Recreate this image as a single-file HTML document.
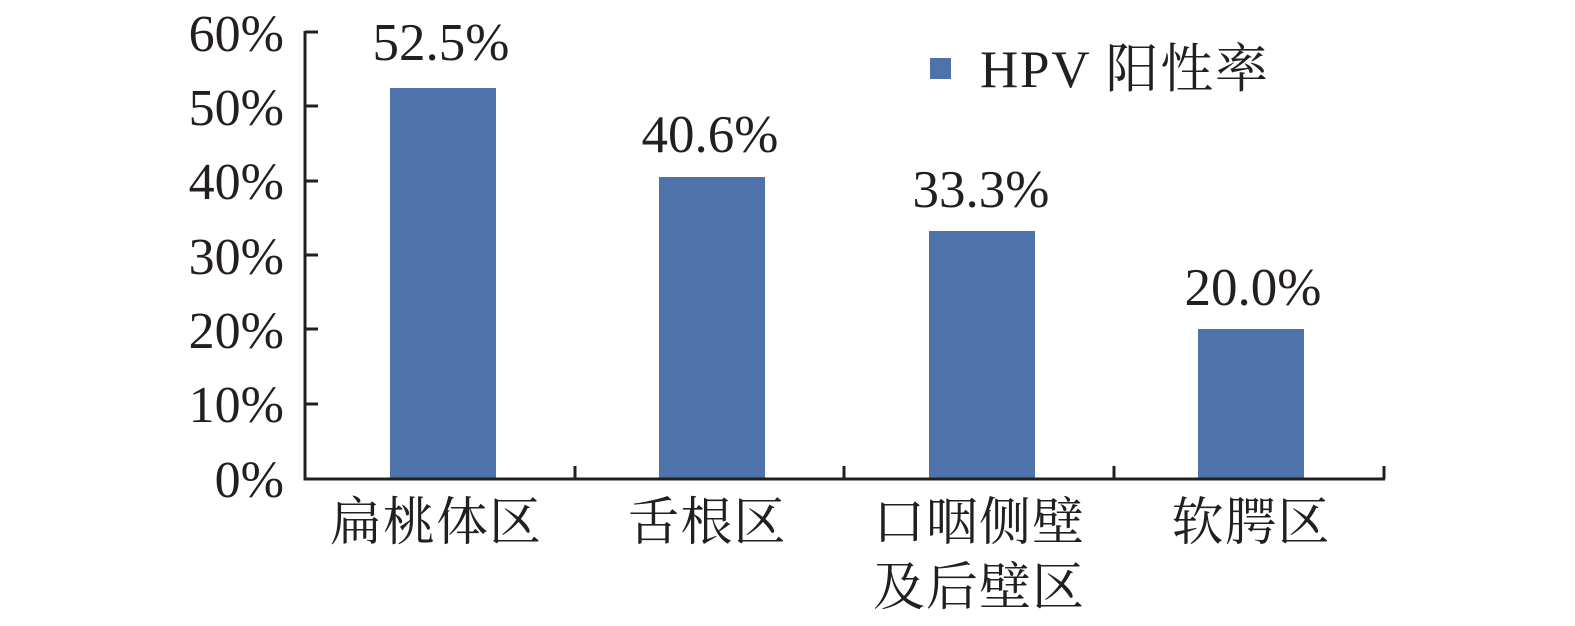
<!DOCTYPE html>
<html><head><meta charset="utf-8"><style>
html,body{margin:0;padding:0;background:#fff;}
svg{display:block}
text{font-family:"Liberation Serif","Noto Serif CJK SC",serif;fill:#231f20;}
</style></head><body>
<svg width="1575" height="626" viewBox="0 0 1575 626">
<g font-size="52" text-anchor="end">
<text x="284" y="51">60%</text>
<text x="284" y="125">50%</text>
<text x="284" y="199">40%</text>
<text x="284" y="274">30%</text>
<text x="284" y="348">20%</text>
<text x="284" y="422">10%</text>
<text x="284" y="497">0%</text>
</g>
<g fill="#4e73ab">
<rect x="390" y="88" width="106" height="390"/>
<rect x="659" y="177" width="106" height="301"/>
<rect x="929" y="231" width="106" height="247"/>
<rect x="1198" y="329" width="106" height="149"/>
</g>
<g stroke="#231f20" stroke-width="3" fill="none">
<path d="M305,31V479H1385"/>
<path d="M305,32H318M305,106H318M305,181H318M305,255H318M305,329H318M305,404H318"/>
<path d="M575,479V466M844,479V466M1114,479V466M1384,479V466"/>
</g>
<g font-size="53" text-anchor="middle">
<text x="441" y="60">52.5%</text>
<text x="710" y="152">40.6%</text>
<text x="981" y="207">33.3%</text>
<text x="1253" y="305">20.0%</text>
</g>
<rect x="930" y="58" width="21" height="21" fill="#4e73ab"/>
<text x="980" y="87" font-size="53" textLength="288" lengthAdjust="spacing">HPV 阳性率</text>
<g font-size="52" text-anchor="middle" letter-spacing="1">
<text x="436" y="540">扁桃体区</text>
<text x="707" y="540">舌根区</text>
<text x="979" y="540">口咽侧壁</text>
<text x="979" y="605">及后壁区</text>
<text x="1251" y="540">软腭区</text>
</g>
</svg>
</body></html>
